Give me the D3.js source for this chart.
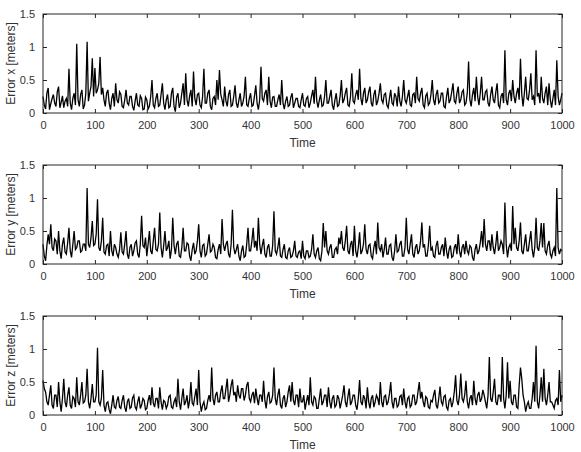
<!DOCTYPE html>
<html>
<head>
<meta charset="utf-8">
<script src="https://cdn.jsdelivr.net/npm/d3@7/dist/d3.min.js"></script>
<style>
  html, body { margin: 0; padding: 0; background: #fff; }
  svg { display: block; font-family: "Liberation Sans", Arial, sans-serif; }
</style>
</head>
<body>
<div id="chart"></div>
<script>
const sampleStep = 2.5;

const errorX = [
  0.25, 0.12, 0.06, 0.3, 0.38, 0.05, 0.14, 0.22, 0.28, 0.15, 0.1, 0.32, 0.4, 0.08, 0.16, 0.26, 0.08, 0.18, 0.22, 0.1,
  0.67, 0.15, 0.05, 0.22, 0.3, 0.12, 1.05, 0.2, 0.1, 0.28, 0.35, 0.06, 0.12, 0.3, 1.08, 0.18, 0.3, 0.4, 0.83, 0.25,
  0.68, 0.3, 0.35, 0.45, 0.85, 0.28, 0.38, 0.2, 0.1, 0.3, 0.35, 0.15, 0.05, 0.22, 0.3, 0.1, 0.45, 0.2, 0.15, 0.32,
  0.28, 0.1, 0.08, 0.2, 0.35, 0.15, 0.12, 0.25, 0.25, 0.1, 0.04, 0.18, 0.3, 0.12, 0.1, 0.26, 0.22, 0.05, 0.06, 0.24,
  0.2, 0.06, 0.1, 0.25, 0.5, 0.12, 0.08, 0.22, 0.3, 0.1, 0.12, 0.28, 0.45, 0.15, 0.05, 0.2, 0.28, 0.08, 0.1, 0.3,
  0.38, 0.1, 0.02, 0.24, 0.3, 0.08, 0.15, 0.3, 0.45, 0.12, 0.6, 0.2, 0.1, 0.26, 0.35, 0.1, 0.63, 0.22, 0.12, 0.28,
  0.3, 0.12, 0.08, 0.25, 0.67, 0.15, 0.15, 0.3, 0.35, 0.1, 0.05, 0.22, 0.25, 0.12, 0.5, 0.2, 0.65, 0.28, 0.2, 0.1,
  0.4, 0.18, 0.1, 0.28, 0.35, 0.1, 0.12, 0.25, 0.42, 0.15, 0.08, 0.2, 0.3, 0.1, 0.15, 0.26, 0.55, 0.12, 0.1, 0.22,
  0.3, 0.1, 0.12, 0.26, 0.42, 0.15, 0.05, 0.2, 0.7, 0.22, 0.18, 0.3, 0.35, 0.12, 0.55, 0.18, 0.08, 0.24, 0.25, 0.1,
  0.1, 0.2, 0.28, 0.12, 0.5, 0.15, 0.06, 0.18, 0.25, 0.1, 0.12, 0.24, 0.3, 0.08, 0.15, 0.22, 0.22, 0.1, 0.08, 0.2,
  0.3, 0.12, 0.1, 0.22, 0.25, 0.08, 0.15, 0.26, 0.35, 0.14, 0.55, 0.18, 0.08, 0.2, 0.28, 0.1, 0.12, 0.25, 0.5, 0.15,
  0.15, 0.25, 0.35, 0.12, 0.05, 0.2, 0.3, 0.1, 0.12, 0.26, 0.5, 0.15, 0.2, 0.3, 0.38, 0.12, 0.1, 0.25, 0.6, 0.18,
  0.15, 0.28, 0.35, 0.2, 0.67, 0.22, 0.12, 0.3, 0.38, 0.15, 0.2, 0.32, 0.4, 0.15, 0.1, 0.28, 0.35, 0.12, 0.18, 0.3,
  0.45, 0.2, 0.15, 0.28, 0.3, 0.12, 0.08, 0.22, 0.35, 0.15, 0.12, 0.3, 0.25, 0.1, 0.4, 0.18, 0.1, 0.25, 0.5, 0.2,
  0.15, 0.25, 0.35, 0.12, 0.1, 0.28, 0.3, 0.15, 0.55, 0.22, 0.18, 0.3, 0.38, 0.12, 0.08, 0.26, 0.3, 0.12, 0.15, 0.28,
  0.5, 0.2, 0.12, 0.28, 0.35, 0.15, 0.18, 0.3, 0.3, 0.1, 0.08, 0.25, 0.38, 0.15, 0.2, 0.32, 0.45, 0.18, 0.15, 0.3,
  0.4, 0.15, 0.2, 0.32, 0.35, 0.12, 0.15, 0.3, 0.78, 0.2, 0.1, 0.28, 0.38, 0.18, 0.55, 0.25, 0.12, 0.3, 0.55, 0.2,
  0.2, 0.32, 0.35, 0.15, 0.1, 0.28, 0.4, 0.2, 0.15, 0.32, 0.45, 0.12, 0.08, 0.25, 0.3, 0.15, 0.95, 0.2, 0.12, 0.3,
  0.35, 0.18, 0.5, 0.25, 0.15, 0.3, 0.38, 0.2, 0.82, 0.28, 0.1, 0.3, 0.55, 0.22, 0.2, 0.35, 0.6, 0.2, 0.25, 0.12,
  0.95, 0.25, 0.3, 0.15, 0.55, 0.22, 0.15, 0.3, 0.4, 0.12, 0.45, 0.2, 0.08, 0.22, 0.35, 0.12, 0.8, 0.25, 0.12, 0.2,
  0.3
];

const errorY = [
  0.3, 0.12, 0.05, 0.28, 0.45, 0.3, 0.6, 0.25, 0.2, 0.38, 0.35, 0.15, 0.5, 0.2, 0.08, 0.3, 0.4, 0.18, 0.15, 0.32,
  0.55, 0.2, 0.1, 0.3, 0.5, 0.22, 0.25, 0.35, 0.35, 0.18, 0.2, 0.3, 0.3, 0.2, 1.15, 0.3, 0.25, 0.4, 0.65, 0.28,
  0.3, 0.45, 0.98, 0.25, 0.2, 0.35, 0.7, 0.18, 0.15, 0.28, 0.3, 0.12, 0.5, 0.2, 0.12, 0.3, 0.25, 0.15, 0.1, 0.22,
  0.48, 0.18, 0.15, 0.3, 0.5, 0.15, 0.08, 0.25, 0.3, 0.12, 0.2, 0.32, 0.35, 0.15, 0.1, 0.3, 0.73, 0.28, 0.25, 0.4,
  0.12, 0.3, 0.5, 0.2, 0.15, 0.35, 0.55, 0.22, 0.2, 0.3, 0.78, 0.25, 0.1, 0.28, 0.5, 0.2, 0.25, 0.35, 0.08, 0.22,
  0.7, 0.28, 0.15, 0.3, 0.35, 0.12, 0.1, 0.25, 0.55, 0.2, 0.2, 0.32, 0.3, 0.12, 0.05, 0.22, 0.32, 0.15, 0.2, 0.35,
  0.6, 0.2, 0.1, 0.28, 0.3, 0.12, 0.15, 0.3, 0.45, 0.18, 0.2, 0.3, 0.25, 0.1, 0.08, 0.22, 0.3, 0.15, 0.68, 0.3,
  0.2, 0.3, 0.35, 0.15, 0.1, 0.3, 0.82, 0.25, 0.15, 0.22, 0.3, 0.12, 0.05, 0.2, 0.28, 0.1, 0.12, 0.3, 0.55, 0.2,
  0.2, 0.35, 0.55, 0.25, 0.35, 0.2, 0.7, 0.3, 0.15, 0.28, 0.38, 0.15, 0.1, 0.25, 0.3, 0.12, 0.12, 0.28, 0.8, 0.2,
  0.15, 0.25, 0.4, 0.12, 0.1, 0.22, 0.3, 0.1, 0.08, 0.2, 0.25, 0.1, 0.12, 0.2, 0.35, 0.12, 0.1, 0.18, 0.2, 0.08,
  0.35, 0.12, 0.08, 0.2, 0.2, 0.1, 0.12, 0.22, 0.45, 0.15, 0.1, 0.2, 0.25, 0.08, 0.05, 0.2, 0.62, 0.25, 0.5, 0.2,
  0.15, 0.25, 0.3, 0.1, 0.1, 0.22, 0.25, 0.15, 0.4, 0.3, 0.5, 0.25, 0.2, 0.35, 0.58, 0.2, 0.15, 0.3, 0.35, 0.12,
  0.58, 0.2, 0.1, 0.25, 0.48, 0.15, 0.2, 0.3, 0.6, 0.22, 0.15, 0.28, 0.3, 0.12, 0.08, 0.25, 0.35, 0.15, 0.63, 0.25,
  0.2, 0.3, 0.1, 0.22, 0.4, 0.15, 0.15, 0.28, 0.3, 0.1, 0.05, 0.2, 0.45, 0.18, 0.2, 0.3, 0.35, 0.12, 0.12, 0.25,
  0.7, 0.22, 0.15, 0.3, 0.45, 0.15, 0.1, 0.25, 0.3, 0.15, 0.2, 0.35, 0.63, 0.25, 0.3, 0.12, 0.12, 0.28, 0.58, 0.2,
  0.25, 0.12, 0.1, 0.28, 0.35, 0.15, 0.15, 0.25, 0.3, 0.12, 0.4, 0.2, 0.08, 0.22, 0.28, 0.1, 0.12, 0.25, 0.3, 0.15,
  0.45, 0.2, 0.1, 0.25, 0.3, 0.15, 0.35, 0.2, 0.15, 0.28, 0.25, 0.1, 0.05, 0.22, 0.3, 0.15, 0.2, 0.32, 0.5, 0.25,
  0.68, 0.3, 0.2, 0.35, 0.35, 0.2, 0.45, 0.25, 0.15, 0.3, 0.5, 0.2, 0.25, 0.35, 0.3, 0.15, 0.93, 0.3, 0.1, 0.25,
  0.3, 0.2, 0.88, 0.3, 0.55, 0.25, 0.2, 0.35, 0.63, 0.2, 0.15, 0.3, 0.45, 0.2, 0.2, 0.35, 0.5, 0.22, 0.1, 0.25,
  0.7, 0.25, 0.2, 0.35, 0.62, 0.25, 0.62, 0.2, 0.15, 0.28, 0.35, 0.15, 0.1, 0.2, 0.25, 0.12, 1.15, 0.25, 0.15, 0.22,
  0.2
];

const errorZ = [
  0.52, 0.4, 0.35, 0.2, 0.15, 0.3, 0.45, 0.15, 0.1, 0.3, 0.3, 0.12, 0.5, 0.2, 0.05, 0.25, 0.55, 0.2, 0.12, 0.3,
  0.42, 0.15, 0.1, 0.28, 0.25, 0.12, 0.57, 0.2, 0.15, 0.3, 0.5, 0.18, 0.2, 0.3, 0.7, 0.2, 0.1, 0.25, 0.47, 0.2,
  0.2, 0.3, 1.02, 0.2, 0.15, 0.25, 0.68, 0.15, 0.05, 0.18, 0.2, 0.08, 0.02, 0.15, 0.3, 0.12, 0.1, 0.22, 0.28, 0.12,
  0.1, 0.22, 0.3, 0.12, 0.05, 0.2, 0.25, 0.1, 0.12, 0.26, 0.3, 0.12, 0.08, 0.2, 0.28, 0.1, 0.15, 0.25, 0.22, 0.08,
  0.1, 0.22, 0.3, 0.15, 0.42, 0.18, 0.12, 0.25, 0.25, 0.1, 0.42, 0.2, 0.08, 0.22, 0.2, 0.1, 0.15, 0.28, 0.3, 0.12,
  0.1, 0.2, 0.25, 0.12, 0.55, 0.2, 0.08, 0.25, 0.4, 0.15, 0.2, 0.3, 0.1, 0.22, 0.5, 0.18, 0.15, 0.28, 0.4, 0.15,
  0.68, 0.2, 0.05, 0.15, 0.2, 0.08, 0.1, 0.22, 0.3, 0.2, 0.72, 0.25, 0.15, 0.3, 0.35, 0.2, 0.2, 0.35, 0.45, 0.25,
  0.25, 0.4, 0.55, 0.2, 0.3, 0.45, 0.54, 0.3, 0.35, 0.2, 0.45, 0.3, 0.25, 0.4, 0.4, 0.22, 0.3, 0.45, 0.5, 0.25,
  0.2, 0.3, 0.35, 0.18, 0.4, 0.25, 0.15, 0.3, 0.3, 0.2, 0.52, 0.22, 0.1, 0.28, 0.35, 0.18, 0.2, 0.3, 0.72, 0.25,
  0.15, 0.3, 0.4, 0.15, 0.1, 0.25, 0.3, 0.12, 0.2, 0.35, 0.45, 0.2, 0.5, 0.22, 0.15, 0.3, 0.3, 0.12, 0.4, 0.2,
  0.2, 0.3, 0.08, 0.2, 0.3, 0.15, 0.57, 0.2, 0.15, 0.28, 0.25, 0.1, 0.1, 0.25, 0.4, 0.15, 0.2, 0.3, 0.3, 0.12,
  0.42, 0.2, 0.1, 0.25, 0.3, 0.12, 0.15, 0.3, 0.25, 0.1, 0.2, 0.3, 0.45, 0.2, 0.12, 0.28, 0.4, 0.15, 0.2, 0.3,
  0.3, 0.15, 0.08, 0.25, 0.53, 0.2, 0.15, 0.3, 0.25, 0.1, 0.42, 0.2, 0.1, 0.25, 0.3, 0.12, 0.2, 0.3, 0.25, 0.15,
  0.5, 0.2, 0.12, 0.28, 0.3, 0.15, 0.2, 0.32, 0.5, 0.2, 0.1, 0.25, 0.25, 0.12, 0.15, 0.28, 0.3, 0.15, 0.4, 0.2,
  0.1, 0.25, 0.28, 0.12, 0.15, 0.3, 0.3, 0.15, 0.2, 0.35, 0.5, 0.25, 0.35, 0.2, 0.12, 0.28, 0.25, 0.12, 0.1, 0.22,
  0.2, 0.3, 0.38, 0.15, 0.1, 0.25, 0.43, 0.2, 0.15, 0.28, 0.3, 0.12, 0.08, 0.22, 0.25, 0.12, 0.2, 0.35, 0.6, 0.22,
  0.15, 0.3, 0.63, 0.25, 0.2, 0.3, 0.52, 0.2, 0.1, 0.25, 0.3, 0.15, 0.52, 0.25, 0.15, 0.3, 0.35, 0.2, 0.25, 0.38,
  0.3, 0.2, 0.1, 0.3, 0.88, 0.25, 0.2, 0.35, 0.55, 0.2, 0.15, 0.3, 0.3, 0.2, 0.88, 0.25, 0.1, 0.3, 0.8, 0.25,
  0.52, 0.2, 0.15, 0.3, 0.3, 0.12, 0.1, 0.45, 0.72, 0.55, 0.3, 0.2, 0.05, 0.15, 0.2, 0.1, 0.1, 0.25, 0.5, 0.2,
  1.05, 0.2, 0.1, 0.3, 0.57, 0.2, 0.7, 0.25, 0.15, 0.3, 0.5, 0.2, 0.2, 0.15, 0.1, 0.22, 0.25, 0.15, 0.68, 0.2,
  0.3
];

const panelLabels = ['Error x [meters]', 'Error y [meters]', 'Error z [meters]'];
const xTicks = [0, 100, 200, 300, 400, 500, 600, 700, 800, 900, 1000];
const yTicks = [0, 0.5, 1, 1.5];
const xLabel = 'Time';

const width = 581;
const height = 452;
const plotLeft = 43;
const plotRight = 562;
const panelTops = [14, 165, 316];
const plotHeight = 99;
const tickLen = 4;
const axisColor = '#262626';
const textColor = '#333';

const svg = d3.select('#chart')
  .append('svg')
  .attr('width', width)
  .attr('height', height);

const x = d3.scaleLinear().domain([0, 1000]).range([plotLeft, plotRight]);

/**
 * Draw one stacked panel: box, inward ticks, labels and the error trace
 */
function drawPanel(values, label, top) {
  const bottom = top + plotHeight;
  const y = d3.scaleLinear().domain([0, 1.5]).range([bottom, top]);
  const g = svg.append('g');

  // trace
  const line = d3.line()
    .x((d, i) => x(i * sampleStep))
    .y(d => y(d));

  g.append('path')
    .datum(values)
    .attr('d', line)
    .attr('fill', 'none')
    .attr('stroke', '#000')
    .attr('stroke-width', 1.3);

  // bottom axis (ticks point into the plot)
  g.append('g')
    .attr('transform', `translate(0,${bottom})`)
    .call(d3.axisBottom(x).tickValues(xTicks).tickSize(-tickLen).tickPadding(8).tickFormat(d3.format('d')))
    .call(a => a.select('.domain').remove());

  // top axis, ticks only
  g.append('g')
    .attr('transform', `translate(0,${top})`)
    .call(d3.axisTop(x).tickValues(xTicks).tickSize(-tickLen).tickFormat(''))
    .call(a => a.select('.domain').remove());

  // left axis
  g.append('g')
    .attr('transform', `translate(${plotLeft},0)`)
    .call(d3.axisLeft(y).tickValues(yTicks).tickSize(-tickLen).tickPadding(8).tickFormat(d3.format('')))
    .call(a => a.select('.domain').remove());

  // right axis, ticks only
  g.append('g')
    .attr('transform', `translate(${plotRight},0)`)
    .call(d3.axisRight(y).tickValues(yTicks).tickSize(-tickLen).tickFormat(''))
    .call(a => a.select('.domain').remove());

  g.selectAll('.tick line').attr('stroke', axisColor);
  g.selectAll('.tick text')
    .attr('fill', textColor)
    .style('font-size', '11px')
    .style('font-family', '"Liberation Sans", Arial, sans-serif');

  // box
  g.append('rect')
    .attr('x', plotLeft)
    .attr('y', top)
    .attr('width', plotRight - plotLeft)
    .attr('height', plotHeight)
    .attr('fill', 'none')
    .attr('stroke', axisColor)
    .attr('stroke-width', 1);

  // axis titles
  g.append('text')
    .attr('x', (plotLeft + plotRight) / 2)
    .attr('y', bottom + 34)
    .attr('text-anchor', 'middle')
    .attr('fill', textColor)
    .style('font-size', '12px')
    .text(xLabel);

  g.append('text')
    .attr('transform', `translate(15,${top + plotHeight / 2}) rotate(-90)`)
    .attr('text-anchor', 'middle')
    .attr('fill', textColor)
    .style('font-size', '12px')
    .text(label);
}

[errorX, errorY, errorZ].forEach((values, i) => {
  drawPanel(values, panelLabels[i], panelTops[i]);
});
</script>
</body>
</html>
